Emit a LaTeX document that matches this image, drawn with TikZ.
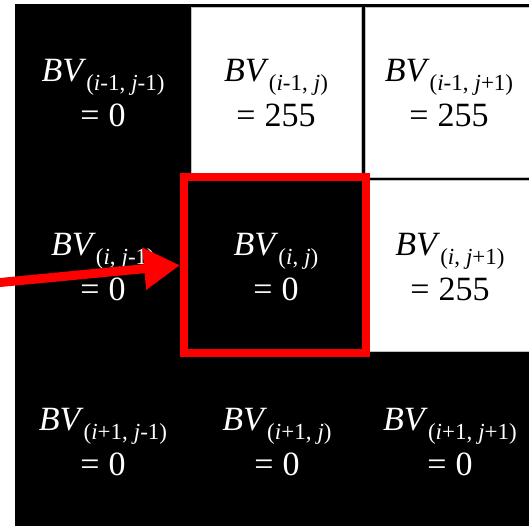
\documentclass[tikz,border=0pt]{standalone}
\usepackage{fontspec}
\setmainfont{Liberation Serif}
\usetikzlibrary{arrows.meta}
\newcommand{\bvsub}[1]{\raisebox{-9pt}{\fontsize{23}{23}\selectfont #1}}
\newcommand{\bvval}[2]{\textit{BV}\bvsub{#1}\\=\hspace{9pt}#2}
\tikzset{
  cellwhite/.style={fill=white, draw=gray!50, line width=0.8pt},
  bvtext/.style={align=center, inner sep=0pt, font=\fontsize{34}{45}\selectfont},
  ontext/.style={bvtext, text=white},
  offtext/.style={bvtext, text=black},
  focusbox/.style={draw=red, line width=8pt, inner sep=0pt, minimum width=181.5pt, minimum height=175.5pt},
  pointer/.style={red, line width=9pt, -{Triangle[length=36pt,width=40pt]}}
}
\begin{document}
\begin{tikzpicture}[x=1pt, y=-1pt]
\useasboundingbox (0,0) rectangle (529,526);
% background grid
\fill[black] (15,4) rectangle (529,526);
\path[cellwhite] (191,7) rectangle (361,177);
\path[cellwhite] (365,7) rectangle (529.5,177);
\path[cellwhite] (369,180) rectangle (529.5,351);
% labels
\node[ontext]  (c11) at (103,93)  {\bvval{(\textit{i}-1,\hspace{6pt}\textit{j}-1)}{0}};
\node[offtext] (c12) at (276,93)  {\bvval{(\textit{i}-1,\hspace{6pt}\textit{j})}{255}};
\node[offtext] (c13) at (449,93)  {\bvval{(\textit{i}-1,\hspace{6pt}\textit{j}+1)}{255}};
\node[ontext]  (c21) at (103,267) {\bvval{(\textit{i},\hspace{6pt}\textit{j}-1)}{0}};
\node[ontext]  (c22) at (276,267) {\bvval{(\textit{i},\hspace{6pt}\textit{j})}{0}};
\node[offtext] (c23) at (450,267) {\bvval{(\textit{i},\hspace{6pt}\textit{j}+1)}{255}};
\node[ontext]  (c31) at (103,442) {\bvval{(\textit{i}+1,\hspace{6pt}\textit{j}-1)}{0}};
\node[ontext]  (c32) at (277,442) {\bvval{(\textit{i}+1,\hspace{6pt}\textit{j})}{0}};
\node[ontext]  (c33) at (450,442) {\bvval{(\textit{i}+1,\hspace{6pt}\textit{j}+1)}{0}};
% highlight and pointer
\node[focusbox] (redbox) at (274.75,265.25) {};
\coordinate (astart) at (-3,282.8);
\draw[pointer] (astart) -- (redbox.west);
\end{tikzpicture}
\end{document}
